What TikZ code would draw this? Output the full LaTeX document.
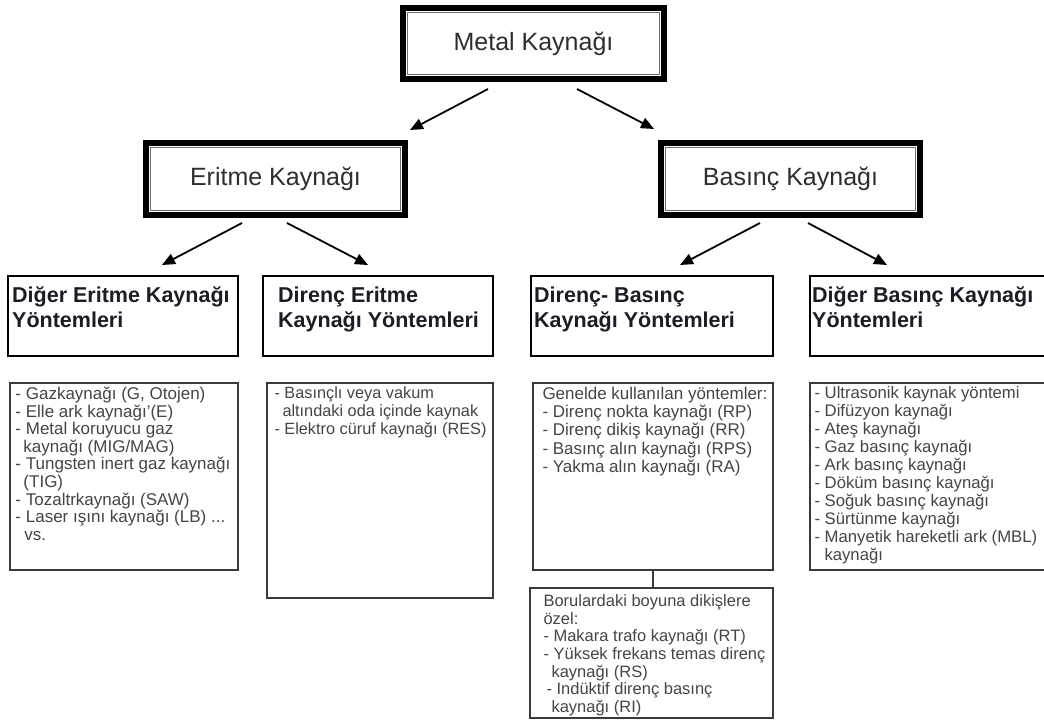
\documentclass[tikz,border=0pt]{standalone}
\usepackage{fontspec}
\setmainfont{Liberation Sans}
\usetikzlibrary{arrows.meta}
\definecolor{txtA}{HTML}{2E2E2E}
\definecolor{txtB}{HTML}{1C1C26}
\definecolor{txtC}{HTML}{454545}
\definecolor{innerg}{HTML}{707070}
\definecolor{boxg}{HTML}{3A3A3A}
\newcommand{\mylist}[1]{\begin{tabular}[t]{@{}l@{}}#1\end{tabular}}
\begin{document}
\begin{tikzpicture}[x=1pt,y=-1pt,
  tb/.style={draw=black,line width=6pt,fill=white,inner sep=0pt,
    font=\fontsize{25}{30}\selectfont,text=txtA},
  innerline/.style={draw=innerg,line width=1.6pt},
  arr/.style={line width=1.8pt,-{Triangle[length=13pt,width=11pt]}},
  mb/.style={draw=black,line width=2pt,fill=white,inner sep=0pt},
  hdr/.style={anchor=base west,inner sep=0pt,
    font=\fontsize{21.5}{25}\selectfont\bfseries,text=txtB},
  lb/.style={draw=boxg,line width=1.4pt,fill=white,inner sep=0pt},
  lst/.style={anchor=base west,inner sep=0pt,
    font=\fontsize{17}{17.8}\selectfont,text=txtC},
  thinline/.style={draw=boxg,line width=1.4pt}]
\useasboundingbox (0,0) rectangle (1044,722);
\clip (0,0) rectangle (1044,722);

% level 1 and 2
\node[tb,minimum width=261pt,minimum height=71pt] (m) at (533.5,43.5) {Metal Kaynağı};
\draw[innerline] ([shift={(7.5,7.5)}]m.north west) rectangle ([shift={(-7.5,-7.5)}]m.south east);
\node[tb,minimum width=259pt,minimum height=72pt] (e) at (275.5,179) {Eritme Kaynağı};
\draw[innerline] ([shift={(7.5,7.5)}]e.north west) rectangle ([shift={(-7.5,-7.5)}]e.south east);
\node[tb,minimum width=259pt,minimum height=72pt] (b) at (790.5,179) {Basınç Kaynağı};
\draw[innerline] ([shift={(7.5,7.5)}]b.north west) rectangle ([shift={(-7.5,-7.5)}]b.south east);

% level 3
\node[mb,minimum width=230pt,minimum height=80pt] (a3) at (123,316) {};
\node[mb,minimum width=230pt,minimum height=80pt] (b3) at (378,316) {};
\node[mb,minimum width=242pt,minimum height=80pt] (c3) at (652,316) {};
\node[mb,minimum width=250pt,minimum height=80pt] (d3) at (935,316) {};
\node[hdr] (a3t) at ([shift={(5,27)}]a3.north west) {\mylist{Diğer Eritme Kaynağı\\Yöntemleri}};
\node[hdr] (b3t) at ([shift={(16,27)}]b3.north west) {\mylist{Direnç Eritme\\Kaynağı Yöntemleri}};
\node[hdr] (c3t) at ([shift={(4,27)}]c3.north west) {\mylist{Direnç- Basınç\\Kaynağı Yöntemleri}};
\node[hdr] (d3t) at ([shift={(3,27)}]d3.north west) {\mylist{Diğer Basınç Kaynağı\\Yöntemleri}};

% arrows
\draw[arr] ([shift={(-45.5,7)}]m.south) -- ([shift={(2,-10)}]e.north east);
\draw[arr] ([shift={(43.5,7)}]m.south) -- ([shift={(-4,-11)}]b.north west);
\draw[arr] ([shift={(-33.5,5)}]e.south) -- ([shift={(39,-10)}]a3.north);
\draw[arr] ([shift={(11.5,5)}]e.south) -- ([shift={(-10,-10)}]b3.north);
\draw[arr] ([shift={(-30.5,5)}]b.south) -- ([shift={(28,-10)}]c3.north);
\draw[arr] ([shift={(17.5,5)}]b.south) -- ([shift={(78,-10)}]d3.north west);

% level 4
\node[lb,minimum width=228pt,minimum height=187pt] (a4) at (124,476.5) {};
\node[lb,minimum width=226pt,minimum height=215pt] (b4) at (380,490.5) {};
\node[lb,minimum width=240pt,minimum height=187pt] (c4) at (653,476.5) {};
\node[lb,minimum width=250pt,minimum height=187pt] (d4) at (935,476.5) {};
\node[lb,minimum width=243pt,minimum height=130pt] (e4) at (651.5,653) {};
\draw[thinline] (c4.south) -- (c4.south |- e4.north);

\node[lst,font=\fontsize{17}{17.3}\selectfont] (a4t) at ([shift={(6,17)}]a4.north west) {\mylist{%
- Gazkaynağı (G, Otojen)\\
- Elle ark kaynağı'(E)\\
- Metal koruyucu gaz\\
\hspace*{8pt}kaynağı (MIG/MAG)\\
- Tungsten inert gaz kaynağı\\
\hspace*{8pt}(TIG)\\
- Tozaltrkaynağı (SAW)\\
- Laser ışını kaynağı (LB) ...\\
\hspace*{9pt}vs.}};
\node[lst,font=\fontsize{16.3}{18}\selectfont] (b4t) at ([shift={(8,16)}]b4.north west) {\mylist{%
- Basınçlı veya vakum\\
\hspace*{8pt}altındaki oda içinde kaynak\\
- Elektro cüruf kaynağı (RES)}};
\node[lst,font=\fontsize{17}{18.3}\selectfont] (c4t) at ([shift={(10,17)}]c4.north west) {\mylist{%
Genelde kullanılan yöntemler:\\
- Direnç nokta kaynağı (RP)\\
- Direnç dikiş kaynağı (RR)\\
- Basınç alın kaynağı (RPS)\\
- Yakma alın kaynağı (RA)}};
\node[lst,font=\fontsize{16.7}{18}\selectfont] (d4t) at ([shift={(5,16)}]d4.north west) {\mylist{%
- Ultrasonik kaynak yöntemi\\
- Difüzyon kaynağı\\
- Ateş kaynağı\\
- Gaz basınç kaynağı\\
- Ark basınç kaynağı\\
- Döküm basınç kaynağı\\
- Soğuk basınç kaynağı\\
- Sürtünme kaynağı\\
- Manyetik hareketli ark (MBL)\\
\hspace*{10pt}kaynağı}};
\node[lst,font=\fontsize{16.5}{17.7}\selectfont] (e4t) at ([shift={(14,19)}]e4.north west) {\mylist{%
Borulardaki boyuna dikişlere\\
özel:\\
- Makara trafo kaynağı (RT)\\
- Yüksek frekans temas direnç\\
\hspace*{8pt}kaynağı (RS)\\
\hspace*{3pt}- Indüktif direnç basınç\\
\hspace*{8pt}kaynağı (RI)}};
\end{tikzpicture}
\end{document}
